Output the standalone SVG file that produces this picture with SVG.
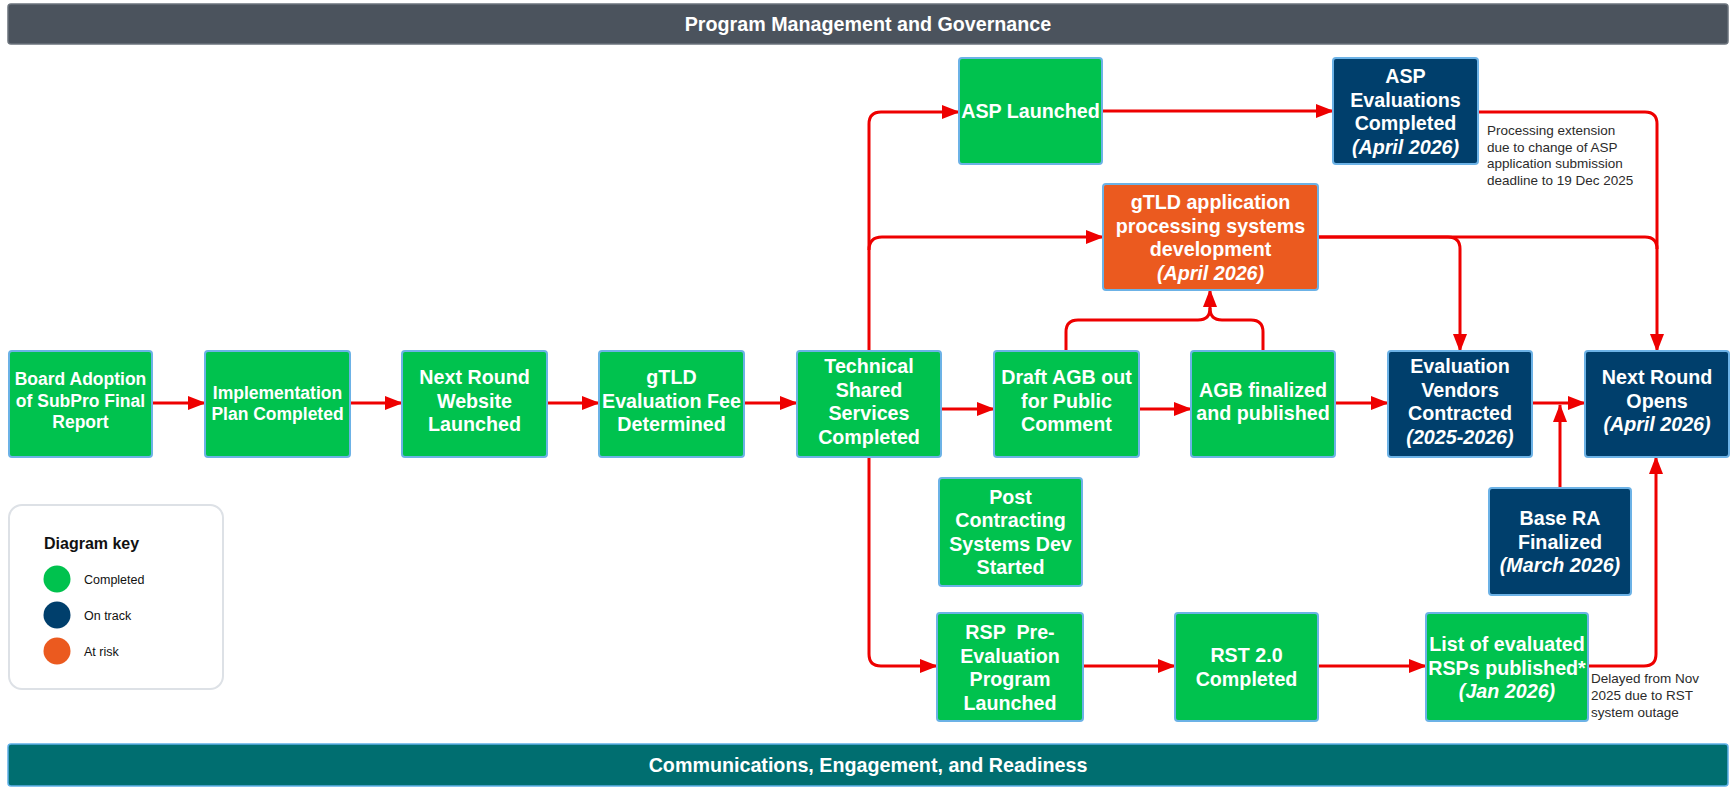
<svg xmlns="http://www.w3.org/2000/svg" width="1736" height="788" viewBox="0 0 1736 788">
<defs>
<style>
.g{fill:#00c24e;stroke:#6cb2e6;stroke-width:2}
.b{fill:#003f6c;stroke:#6cb2e6;stroke-width:2}
.o{fill:#eb5a1f;stroke:#6cb2e6;stroke-width:2}
.t{font-family:"Liberation Sans",Arial,sans-serif;font-weight:bold;font-size:19.7px;fill:#ffffff;text-anchor:middle}
.s{font-size:17.5px}
.i{font-style:italic}
.n{font-family:"Liberation Sans",Arial,sans-serif;font-size:13.5px;fill:#2b2b2b}
.c{fill:none;stroke:#ee0000;stroke-width:3;stroke-linejoin:round}
.a{marker-end:url(#ah)}
.k{font-family:"Liberation Sans",Arial,sans-serif;font-size:12.5px;fill:#111}
</style>
<marker id="ah" markerUnits="userSpaceOnUse" markerWidth="19" markerHeight="15" refX="17" refY="7.5" orient="auto">
<path d="M0,0.5 L18,7.5 L0,14.5 z" fill="#ee0000"/>
</marker>
</defs>
<rect width="1736" height="788" fill="#ffffff"/>

<g id="bar-top">
<rect x="8" y="4" width="1720" height="40" rx="3" fill="#4b535d" stroke="#6b737c" stroke-width="1.5"/>
<text class="t" x="868" y="31" style="font-size:19.7px">Program Management and Governance</text>
</g>

<g id="bar-bottom">
<rect x="8" y="744" width="1720" height="42" rx="3" fill="#006e70" stroke="#5fb0e8" stroke-width="1.5"/>
<text class="t" x="868" y="772" style="font-size:19.7px">Communications, Engagement, and Readiness</text>
</g>

<g id="connectors">
<path class="c a" d="M152,403 H205"/>
<path class="c a" d="M350,403 H402"/>
<path class="c a" d="M547,403 H599"/>
<path class="c a" d="M744,403 H797"/>
<path class="c a" d="M941,409 H994"/>
<path class="c a" d="M1139,409 H1191"/>
<path class="c a" d="M1335,403 H1388"/>
<path class="c a" d="M1532,403 H1585"/>
<path class="c a" d="M1560,488 V405"/>
<path class="c a" d="M869,351 V124 Q869,112 881,112 H959"/>
<path class="c a" d="M869,250 Q869,237 882,237 H1103"/>
<path class="c a" d="M869,457 V654 Q869,666 881,666 H937"/>
<path class="c a" d="M1102,111 H1333"/>
<path class="c a" d="M1478,112 H1645 Q1657,112 1657,124 V351"/>
<path class="c" d="M1318,237 H1645 Q1657,237 1657,249"/>
<path class="c a" d="M1318,237 H1448 Q1460,237 1460,249 V351"/>
<path class="c a" d="M1066,351 V332 Q1066,320 1078,320 H1198 Q1210,320 1210,308 V290"/>
<path class="c" d="M1263,351 V332 Q1263,320 1251,320 H1222 Q1210,320 1210,308"/>
<path class="c a" d="M1083,666 H1175"/>
<path class="c a" d="M1318,666 H1426"/>
<path class="c a" d="M1588,666 H1644 Q1656,666 1656,654 V457"/>
</g>

<g id="n-board">
<rect class="g" x="9" y="351" width="143" height="106" rx="3"/>
<text class="t s" x="80.5"><tspan x="80.5" y="385">Board Adoption</tspan><tspan x="80.5" y="407">of SubPro Final</tspan><tspan x="80.5" y="428">Report</tspan></text>
</g>
<g id="n-impl">
<rect class="g" x="205" y="351" width="145" height="106" rx="3"/>
<text class="t s" x="277.5"><tspan x="277.5" y="399">Implementation</tspan><tspan x="277.5" y="420">Plan Completed</tspan></text>
</g>
<g id="n-website">
<rect class="g" x="402" y="351" width="145" height="106" rx="3"/>
<text class="t"><tspan x="474.5" y="384">Next Round</tspan><tspan x="474.5" y="408">Website</tspan><tspan x="474.5" y="431">Launched</tspan></text>
</g>
<g id="n-fee">
<rect class="g" x="599" y="351" width="145" height="106" rx="3"/>
<text class="t"><tspan x="671.5" y="384">gTLD</tspan><tspan x="671.5" y="408">Evaluation Fee</tspan><tspan x="671.5" y="431">Determined</tspan></text>
</g>
<g id="n-tss">
<rect class="g" x="797" y="351" width="144" height="106" rx="3"/>
<text class="t"><tspan x="869" y="373">Technical</tspan><tspan x="869" y="397">Shared</tspan><tspan x="869" y="420">Services</tspan><tspan x="869" y="444">Completed</tspan></text>
</g>
<g id="n-draft">
<rect class="g" x="994" y="351" width="145" height="106" rx="3"/>
<text class="t"><tspan x="1066.5" y="384">Draft AGB out</tspan><tspan x="1066.5" y="408">for Public</tspan><tspan x="1066.5" y="431">Comment</tspan></text>
</g>
<g id="n-agb">
<rect class="g" x="1191" y="351" width="144" height="106" rx="3"/>
<text class="t"><tspan x="1263" y="397">AGB finalized</tspan><tspan x="1263" y="420">and published</tspan></text>
</g>
<g id="n-vendors">
<rect class="b" x="1388" y="351" width="144" height="106" rx="3"/>
<text class="t"><tspan x="1460" y="373">Evaluation</tspan><tspan x="1460" y="397">Vendors</tspan><tspan x="1460" y="420">Contracted</tspan><tspan class="i" x="1460" y="444">(2025-2026)</tspan></text>
</g>
<g id="n-opens">
<rect class="b" x="1585" y="351" width="144" height="106" rx="3"/>
<text class="t"><tspan x="1657" y="384">Next Round</tspan><tspan x="1657" y="408">Opens</tspan><tspan class="i" x="1657" y="431">(April 2026)</tspan></text>
</g>
<g id="n-asp">
<rect class="g" x="959" y="58" width="143" height="106" rx="3"/>
<text class="t" x="1030.5" y="118">ASP Launched</text>
</g>
<g id="n-aspeval">
<rect class="b" x="1333" y="58" width="145" height="106" rx="3"/>
<text class="t"><tspan x="1405.5" y="83">ASP</tspan><tspan x="1405.5" y="106.5">Evaluations</tspan><tspan x="1405.5" y="130">Completed</tspan><tspan class="i" x="1405.5" y="153.5">(April 2026)</tspan></text>
</g>
<g id="n-gtldsys">
<rect class="o" x="1103" y="184" width="215" height="106" rx="3"/>
<text class="t"><tspan x="1210.5" y="209">gTLD application</tspan><tspan x="1210.5" y="232.5">processing systems</tspan><tspan x="1210.5" y="256">development</tspan><tspan class="i" x="1210.5" y="279.5">(April 2026)</tspan></text>
</g>
<g id="n-postcontract">
<rect class="g" x="939" y="478" width="143" height="108" rx="3"/>
<text class="t"><tspan x="1010.5" y="503.5">Post</tspan><tspan x="1010.5" y="527">Contracting</tspan><tspan x="1010.5" y="550.5">Systems Dev</tspan><tspan x="1010.5" y="574">Started</tspan></text>
</g>
<g id="n-basera">
<rect class="b" x="1489" y="488" width="142" height="107" rx="3"/>
<text class="t"><tspan x="1560" y="525">Base RA</tspan><tspan x="1560" y="548.5">Finalized</tspan><tspan class="i" x="1560" y="572">(March 2026)</tspan></text>
</g>
<g id="n-rsp">
<rect class="g" x="937" y="613" width="146" height="108" rx="3"/>
<text class="t" xml:space="preserve"><tspan x="1010" y="639">RSP  Pre-</tspan><tspan x="1010" y="662.5">Evaluation</tspan><tspan x="1010" y="686">Program</tspan><tspan x="1010" y="709.5">Launched</tspan></text>
</g>
<g id="n-rst">
<rect class="g" x="1175" y="613" width="143" height="108" rx="3"/>
<text class="t"><tspan x="1246.5" y="662">RST 2.0</tspan><tspan x="1246.5" y="685.5">Completed</tspan></text>
</g>
<g id="n-list">
<rect class="g" x="1426" y="613" width="162" height="108" rx="3"/>
<text class="t"><tspan x="1507" y="651">List of evaluated</tspan><tspan x="1507" y="674.5">RSPs published*</tspan><tspan class="i" x="1507" y="698">(Jan 2026)</tspan></text>
</g>

<g id="note-asp">
<text class="n"><tspan x="1487" y="135">Processing extension</tspan><tspan x="1487" y="151.5">due to change of ASP</tspan><tspan x="1487" y="168">application submission</tspan><tspan x="1487" y="184.5">deadline to 19 Dec 2025</tspan></text>
</g>
<g id="note-rsp">
<text class="n"><tspan x="1591" y="683">Delayed from Nov</tspan><tspan x="1591" y="700">2025 due to RST</tspan><tspan x="1591" y="717">system outage</tspan></text>
</g>

<g id="legend">
<rect x="9" y="505" width="214" height="184" rx="13" fill="#ffffff" stroke="#dde1e6" stroke-width="2"/>
<text x="44" y="549" style="font-family:'Liberation Sans',Arial,sans-serif;font-weight:bold;font-size:16px;fill:#111">Diagram key</text>
<circle cx="57" cy="579" r="13.5" fill="#00c24e"/>
<circle cx="57" cy="615" r="13.5" fill="#003f6c"/>
<circle cx="57" cy="651" r="13.5" fill="#eb5a1f"/>
<text class="k" x="84" y="583.5">Completed</text>
<text class="k" x="84" y="619.5">On track</text>
<text class="k" x="84" y="655.5">At risk</text>
</g>
</svg>
